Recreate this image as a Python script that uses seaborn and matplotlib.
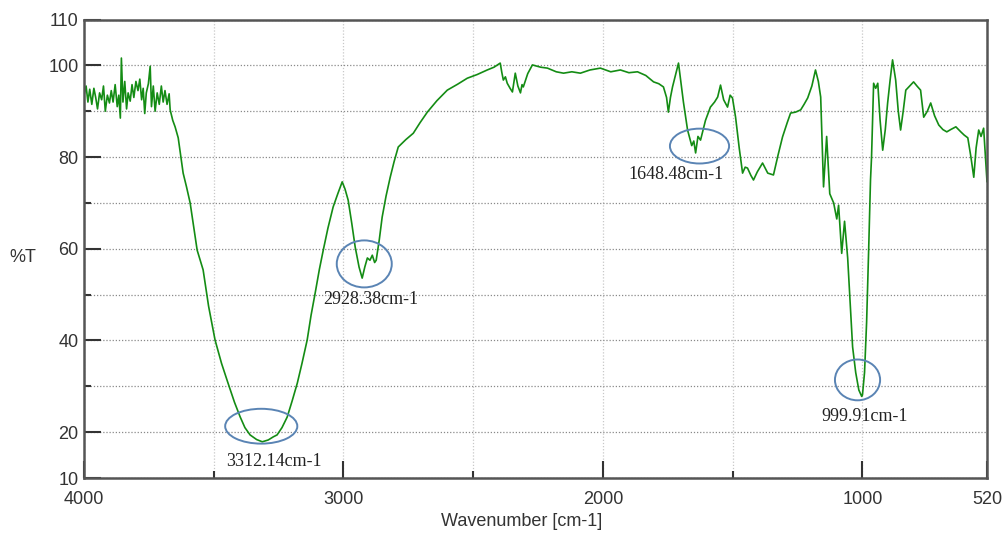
import matplotlib
matplotlib.use("Agg")
import matplotlib.pyplot as plt
from matplotlib.patches import Ellipse
from matplotlib.ticker import FixedLocator, FixedFormatter
import seaborn as sns
import pandas as pd

# ---------------- data ----------------
wavenumber = [
    4000, 3992, 3985, 3978, 3970, 3962, 3955, 3948, 3940, 3932, 3925, 3918, 3910, 3902,
    3895, 3888, 3880, 3872, 3866, 3860, 3856, 3850, 3843, 3836, 3830, 3822, 3815, 3808,
    3800, 3792, 3785, 3778, 3772, 3766, 3760, 3752, 3745, 3740, 3733, 3726, 3718, 3710,
    3702, 3695, 3688, 3680, 3672, 3668, 3658, 3649, 3637, 3628, 3618, 3605, 3591, 3578,
    3564, 3541, 3520, 3495, 3470, 3445, 3420, 3398, 3380, 3360, 3335, 3313, 3290, 3270,
    3256, 3237, 3217, 3198, 3178, 3160, 3140, 3125, 3109, 3093, 3078, 3060, 3040, 3022,
    3005, 2994, 2982, 2968, 2955, 2940, 2928, 2918, 2908, 2898, 2889, 2880, 2874, 2862,
    2851, 2836, 2820, 2805, 2789, 2760, 2731, 2705, 2677, 2640, 2600, 2560, 2523, 2485,
    2446, 2420, 2396, 2390, 2384, 2376, 2369, 2358, 2349, 2343, 2338, 2328, 2318, 2312,
    2307, 2290, 2272, 2240, 2214, 2180, 2152, 2120, 2087, 2050, 2010, 1970, 1933, 1900,
    1867, 1835, 1805, 1785, 1767, 1755, 1748, 1740, 1732, 1720, 1709, 1690, 1674, 1658,
    1650, 1643, 1634, 1624, 1605, 1586, 1570, 1558, 1547, 1535, 1520, 1510, 1501, 1489,
    1475, 1462, 1452, 1443, 1430, 1420, 1405, 1385, 1365, 1343, 1325, 1308, 1290, 1277,
    1258, 1238, 1225, 1211, 1195, 1181, 1170, 1161, 1150, 1138, 1126, 1111, 1099, 1092,
    1080, 1069, 1057, 1049, 1038, 1026, 1014, 1003, 1000, 992, 984, 976, 969, 965,
    957, 949, 941, 932, 922, 912, 903, 893, 884, 878, 872, 862, 853, 843, 833,
    818, 803, 790, 776, 764, 750, 737, 722, 706, 690, 675, 660, 640, 621, 608,
    594, 582, 571, 562, 552, 543, 533, 526, 520,
]
transmittance = [
    93.5, 95.5, 92.0, 94.8, 91.5, 95.0, 93.0, 90.5, 94.0, 92.5, 95.5, 90.0, 93.5, 91.8,
    94.5, 92.0, 95.8, 91.0, 93.5, 88.5, 101.6, 92.0, 96.5, 90.5, 94.0, 92.2, 95.8, 93.0,
    96.5, 94.5, 97.0, 92.5, 95.0, 89.5, 94.0, 96.0, 99.8, 91.0, 95.5, 90.0, 94.0, 91.5,
    95.5, 92.0, 94.5, 91.5, 93.8, 90.3, 88.0, 86.6, 84.2, 80.5, 76.5, 73.5, 70.0, 65.0,
    59.7, 55.4, 47.5, 40.1, 35.0, 30.7, 26.5, 23.3, 21.0, 19.4, 18.4, 17.9, 18.3, 19.0,
    19.4, 21.0, 23.3, 26.8, 30.7, 35.0, 40.1, 45.5, 50.4, 55.5, 59.7, 64.5, 69.1, 72.0,
    74.6, 73.0, 70.6, 65.5, 60.4, 56.0, 53.6, 56.0, 58.0, 57.5, 58.6, 57.0, 57.5, 62.0,
    66.9, 71.5, 75.6, 79.0, 82.2, 83.8, 85.2, 87.5, 89.8, 92.3, 94.6, 95.9, 97.2, 98.0,
    99.0, 99.6, 100.5, 98.5, 96.8, 97.5, 96.1, 95.0, 94.2, 96.5, 98.3, 95.5, 94.0, 95.8,
    95.3, 98.2, 100.1, 99.6, 99.4, 98.6, 98.3, 98.6, 98.3, 99.0, 99.4, 98.6, 99.0, 98.4,
    98.6, 97.8, 96.4, 96.0, 95.3, 93.0, 89.8, 93.0, 95.3, 98.0, 100.5, 92.0, 85.9, 82.5,
    83.5, 80.9, 84.5, 83.7, 88.0, 90.9, 92.0, 93.1, 95.7, 92.5, 90.9, 93.5, 92.9, 88.7,
    82.0, 76.5, 77.8, 77.6, 76.0, 75.0, 76.8, 78.7, 76.5, 76.1, 80.5, 84.4, 87.5, 89.6,
    89.8, 90.3, 91.5, 92.9, 95.5, 99.0, 96.5, 93.1, 73.5, 84.5, 72.0, 70.0, 66.5, 69.5,
    59.0, 66.0, 58.0, 50.0, 38.6, 33.0, 29.2, 27.8, 28.1, 33.0, 44.0, 60.0, 75.0, 80.0,
    96.1, 95.0, 96.1, 88.0, 81.5, 86.0, 91.8, 97.0, 101.2, 99.0, 96.8, 90.0, 85.9, 90.0, 94.6,
    95.5, 96.4, 95.5, 94.6, 88.7, 90.0, 91.8, 89.0, 87.0, 86.0, 85.5, 86.0, 86.6, 85.5, 84.8,
    84.2, 80.0, 75.6, 82.0, 85.9, 84.5, 86.3, 80.0, 74.6,
]

peak_labels = ["3312.14cm-1", "2928.38cm-1", "1648.48cm-1", "999.91cm-1"]
# ellipse centers (wavenumber, %T) and label anchor positions
ellipse_x = [3317, 2920, 1628, 1019]
ellipse_y = [21.3, 56.7, 82.4, 31.4]
label_x = [3267, 2893, 1720, 992]
label_y = [13.5, 49.0, 76.3, 23.5]

x_major = [4000, 3000, 2000, 1000, 520]
x_minor = [3500, 2500, 1500]
y_major = [10, 20, 40, 60, 80, 100, 110]
y_minor = [30, 50, 70, 90]

df = pd.DataFrame({"wn": wavenumber, "T": transmittance})

# ---------------- plot ----------------
sns.set_style("white")
plt.rcParams["font.family"] = ["Liberation Sans", "DejaVu Sans"]

fig = plt.figure(figsize=(10.05, 5.35), dpi=100)
ax = fig.add_axes([0.0836, 0.1065, 0.8985, 0.857])

sns.lineplot(data=df, x="wn", y="T", ax=ax, color="#148c14", linewidth=1.2,
             estimator=None, sort=False)

ax.set_xlim(4000, 520)
ax.set_ylim(10, 110)

ax.xaxis.set_major_locator(FixedLocator(x_major))
ax.xaxis.set_major_formatter(FixedFormatter([str(v) for v in x_major]))
ax.xaxis.set_minor_locator(FixedLocator(x_minor))
ax.yaxis.set_major_locator(FixedLocator(y_major))
ax.yaxis.set_major_formatter(FixedFormatter([str(v) for v in y_major]))
ax.yaxis.set_minor_locator(FixedLocator(y_minor))

ax.tick_params(axis="both", which="both", bottom=True, left=True, top=False, right=False)
ax.tick_params(axis="both", which="major", direction="in", length=12, width=1.5,
               color="#333333", labelsize=13, labelcolor="#333333")
ax.tick_params(axis="both", which="minor", direction="in", length=5, width=1.5,
               color="#333333")
ax.tick_params(axis="x", which="major", pad=9)
ax.tick_params(axis="y", which="major", pad=4)

ax.grid(False)
ax.xaxis.grid(True, which="both", linestyle=(0, (1, 1.5)), color="#c8c8c8", linewidth=0.9)
ax.yaxis.grid(True, which="both", linestyle=(0, (1, 1.5)), color="#8a8a8a", linewidth=0.9)
ax.set_axisbelow(True)

for side in ["left", "bottom", "top", "right"]:
    ax.spines[side].set_visible(True)
    ax.spines[side].set_color("#555555")
    ax.spines[side].set_linewidth(1.8)

ax.set_xlabel("Wavenumber [cm-1]", fontsize=13, color="#333333")
ax.xaxis.set_label_coords(0.485, -0.094)
ax.xaxis.label.set_verticalalignment("center")
ax.set_ylabel("%T", fontsize=13, color="#333333", rotation=0)
ax.yaxis.set_label_coords(-0.068, 0.48)
ax.yaxis.label.set_verticalalignment("center")
ax.yaxis.label.set_horizontalalignment("center")

ell_w = [278, 212, 228, 174]
ell_h = [7.6, 10.25, 7.6, 8.9]
for lab, ex, ey, lx, ly, w, h in zip(peak_labels, ellipse_x, ellipse_y, label_x, label_y, ell_w, ell_h):
    ax.add_patch(Ellipse((ex, ey), w, h, fill=False, edgecolor="#5a84b4", linewidth=1.4,
                         zorder=5))
    ax.text(lx, ly, lab, family=["Liberation Serif", "DejaVu Serif"], fontsize=13,
            color="#222222", ha="center", va="center", zorder=6)

fig.savefig("out.png", dpi=100)
